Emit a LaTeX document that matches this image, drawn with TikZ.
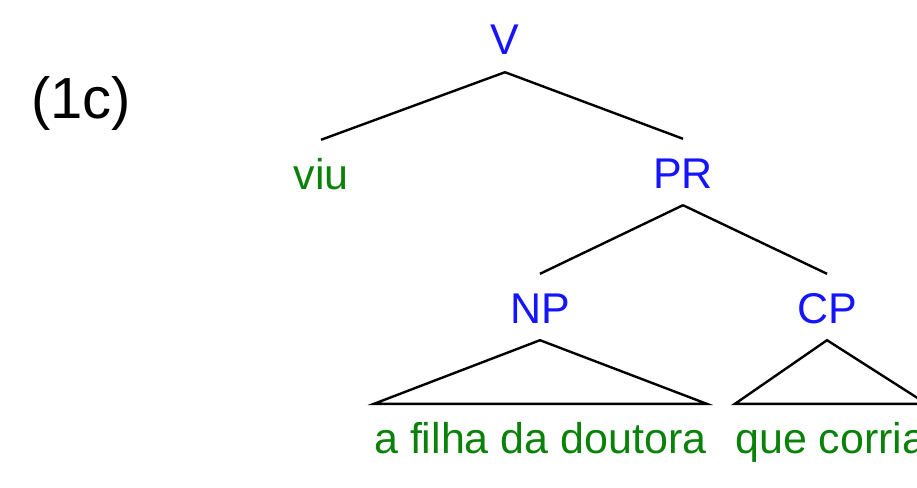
\documentclass[tikz,border=0pt]{standalone}
\usepackage{fontspec}
\setmainfont{Liberation Sans}
\definecolor{catblue}{RGB}{20,20,255}
\definecolor{wordgreen}{RGB}{10,130,10}
\begin{document}
\begin{tikzpicture}[x=1pt,y=-1pt,
  lab/.style={inner xsep=0pt,inner ysep=17pt,text height=32pt,text depth=0pt,
    font=\fontsize{43}{50}\selectfont},
  cat/.style={lab,text=catblue,anchor=base},
  word/.style={lab,text=wordgreen},
  branch/.style={draw=black,line width=2.4pt,line join=miter}]
\useasboundingbox (0,0) rectangle (917,487);
\node[anchor=base west,inner sep=0pt,font=\fontsize{58}{64}\selectfont] (ex) at (31,118) {(1c)};
\node[cat] (V) at (505,55) {V};
\node[word,anchor=base] (viu) at (321,189) {viu};
\node[cat] (PR) at (683,188) {PR};
\node[cat] (NP) at (540,323) {NP};
\node[cat] (CP) at (827,323) {CP};
\node[word,anchor=base west] (np1) at (374,453) {a filha da doutora};
\node[word,anchor=base west] (cp1) at (735,453) {que corria};
\draw[branch] (V.south) -- (viu.north);
\draw[branch] (V.south) -- (PR.north);
\draw[branch] (PR.south) -- (NP.north);
\draw[branch] (PR.south) -- (CP.north);
\draw[branch] (NP.south) -- (np1.north west) -- (np1.north east) -- cycle;
\draw[branch] (CP.south) -- (cp1.north west) -- (cp1.north east) -- cycle;
\end{tikzpicture}
\end{document}
